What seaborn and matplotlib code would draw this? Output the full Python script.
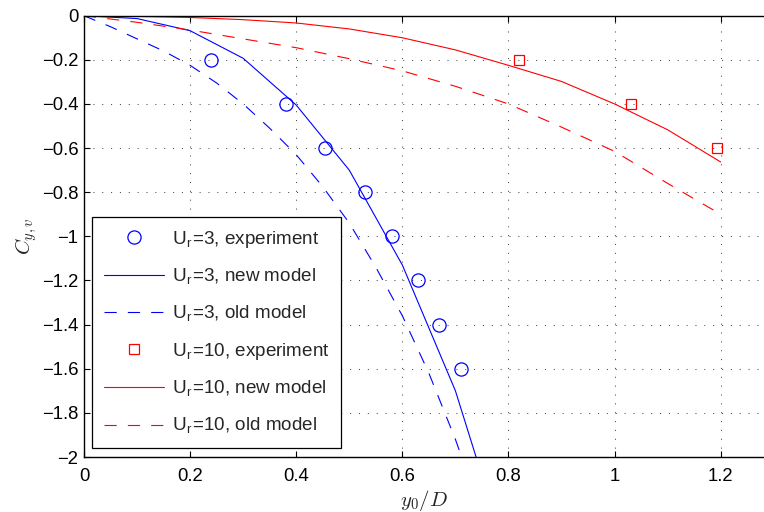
import numpy as np
import pandas as pd
import matplotlib
matplotlib.use("Agg")
import matplotlib.pyplot as plt
import seaborn as sns

# Dimensionless amplitude y0/D and added-damping coefficient C_{y,v}
# Ur = 3
exp3_x = [0.24, 0.38, 0.455, 0.53, 0.58, 0.63, 0.67, 0.71]
exp3_y = [-0.2, -0.4, -0.6, -0.8, -1.0, -1.2, -1.4, -1.6]
new3_x = [0.0, 0.1, 0.2, 0.3, 0.4, 0.5, 0.6, 0.7, 0.8]
new3_y = [0.0, -0.013, -0.068, -0.193, -0.405, -0.70, -1.13, -1.70, -2.47]
old3_x = [0.0, 0.05, 0.1, 0.15, 0.2, 0.25, 0.3, 0.35, 0.4, 0.45, 0.5, 0.55, 0.6, 0.65, 0.7, 0.75]
old3_y = [0.0, -0.05, -0.105, -0.16, -0.225, -0.305, -0.40, -0.51, -0.63, -0.775, -0.94, -1.14, -1.36, -1.62, -1.92, -2.26]

# Ur = 10
exp10_x = [0.82, 1.03, 1.193]
exp10_y = [-0.2, -0.4, -0.6]
new10_x = [0.0, 0.1, 0.2, 0.3, 0.4, 0.5, 0.6, 0.7, 0.8, 0.9, 1.0, 1.1, 1.2]
new10_y = [0.0, -0.003, -0.008, -0.018, -0.033, -0.06, -0.10, -0.155, -0.225, -0.298, -0.40, -0.517, -0.663]
old10_x = [0.0, 0.1, 0.2, 0.3, 0.4, 0.5, 0.6, 0.7, 0.8, 0.9, 1.0, 1.1, 1.2]
old10_y = [0.0, -0.03, -0.065, -0.105, -0.145, -0.195, -0.25, -0.32, -0.40, -0.505, -0.615, -0.76, -0.90]

labels = [
    r"U$_\mathregular{r}$=3, experiment",
    r"U$_\mathregular{r}$=3, new model",
    r"U$_\mathregular{r}$=3, old model",
    r"U$_\mathregular{r}$=10, experiment",
    r"U$_\mathregular{r}$=10, new model",
    r"U$_\mathregular{r}$=10, old model",
]

x_ticks = [0, 0.2, 0.4, 0.6, 0.8, 1.0, 1.2]
y_ticks = [0, -0.2, -0.4, -0.6, -0.8, -1.0, -1.2, -1.4, -1.6, -1.8, -2.0]

sns.set_style("white")
plt.rcParams["font.family"] = ["Liberation Sans", "DejaVu Sans"]
plt.rcParams["mathtext.fontset"] = "cm"
plt.rcParams["axes.unicode_minus"] = True

fig = plt.figure(figsize=(7.64, 5.12), dpi=100)
ax = fig.add_axes([84 / 764, 1 - 457 / 512, 680 / 764, 441.3 / 512])

blue = (0, 0, 1)
red = (1, 0, 0)
lw = 0.8
dash = (11, 10)


def curve(x, y, color, label, dashed=False):
    df = pd.DataFrame({"x": x, "y": y})
    kws = dict(color=color, lw=lw, label=label)
    if dashed:
        kws["dashes"] = dash
    sns.lineplot(data=df, x="x", y="y", ax=ax, estimator=None, sort=False, **kws)


def points(x, y, color, label, marker, size):
    df = pd.DataFrame({"x": x, "y": y})
    sns.lineplot(data=df, x="x", y="y", ax=ax, estimator=None, sort=False,
                 linestyle="", marker=marker, markersize=size,
                 markerfacecolor="none", markeredgecolor=color,
                 markeredgewidth=0.9, color=color, label=label)


points(exp3_x, exp3_y, blue, labels[0], "o", 9.5)
curve(new3_x, new3_y, blue, labels[1])
curve(old3_x, old3_y, blue, labels[2], dashed=True)
points(exp10_x, exp10_y, red, labels[3], "s", 7.5)
curve(new10_x, new10_y, red, labels[4])
curve(old10_x, old10_y, red, labels[5], dashed=True)

ax.set_xlim(0, 1.2816)
ax.set_ylim(-2, 0)
ax.set_xticks(x_ticks)
ax.set_yticks(y_ticks)
ax.set_xticklabels([f"{v:g}" for v in x_ticks])
ax.set_yticklabels([f"{v:g}".replace("-", "\u2212") for v in y_ticks])

ax.grid(True, color="0.3", linestyle=(0, (1, 7.5)), linewidth=0.75)
ax.set_axisbelow(True)

for side in ["left", "bottom", "top"]:
    ax.spines[side].set_visible(True)
    ax.spines[side].set_color("black")
    ax.spines[side].set_linewidth(1.0)
ax.spines["right"].set_visible(False)

ax.tick_params(axis="both", which="major", direction="in", length=4.5, width=0.8,
               colors="black", labelsize=13.3, top=True, left=True, bottom=True, right=False)
ax.tick_params(axis="x", pad=8)
ax.tick_params(axis="y", pad=4)

ax.set_xlabel(r"$y_0/D$", fontsize=15, labelpad=2)
ax.set_ylabel(r"$C_{y,v}$", fontsize=15, labelpad=2)

handles, labs = ax.get_legend_handles_labels()
leg = ax.legend(handles, labs, loc="lower left", bbox_to_anchor=(0.0122, 0.021),
                borderaxespad=0, fontsize=13.6, frameon=True, fancybox=False,
                framealpha=1, edgecolor="black", handlelength=3.2,
                handletextpad=0.4, labelspacing=0.9, borderpad=0.6)
leg.get_frame().set_linewidth(0.9)

fig.savefig("out.png", dpi=100)
